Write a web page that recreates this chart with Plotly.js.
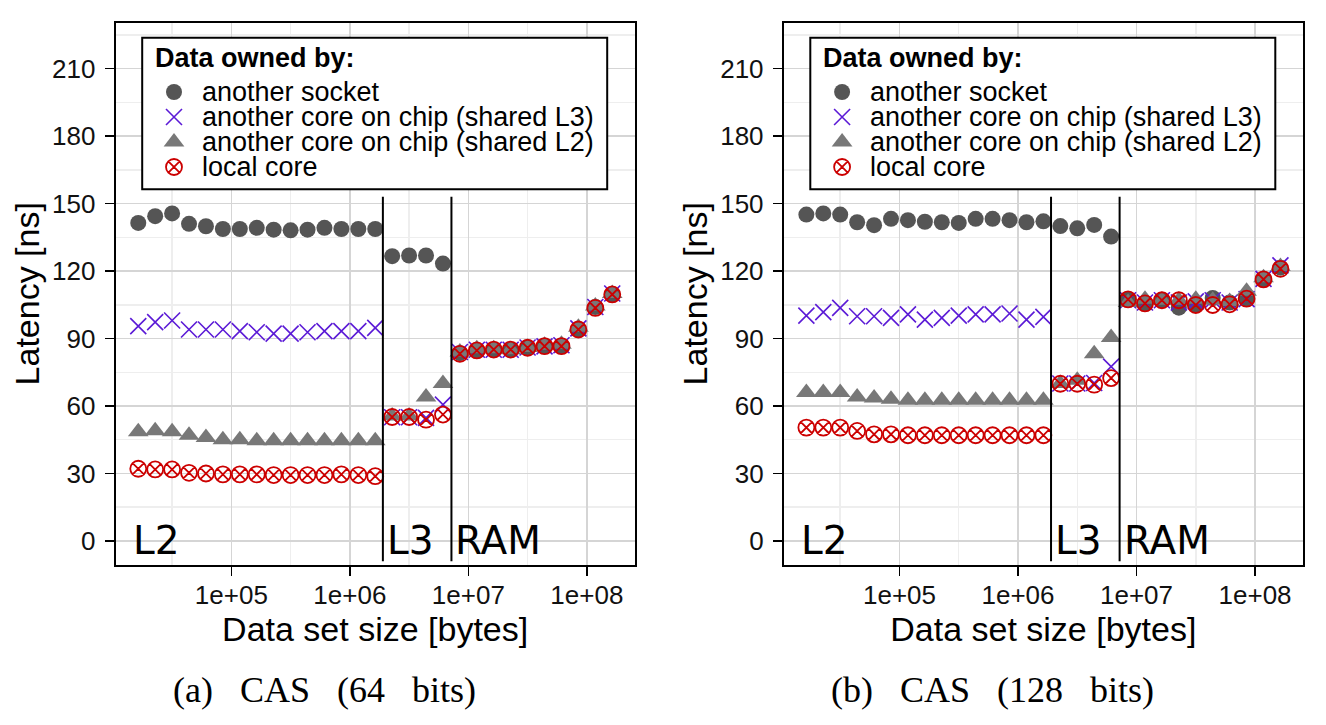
<!DOCTYPE html>
<html><head><meta charset="utf-8">
<script src="https://cdn.plot.ly/plotly-3.0.1.min.js"></script>
<style>html,body{margin:0;padding:0;background:#fff}</style>
</head><body><div id="chart" style="width:1326px;height:725px"></div>
<script>
// ---------- data ----------
const sizes = [16384, 22760, 31620, 43940, 61050, 84830, 117900, 163800, 227500, 316200,
  439400, 610500, 848300, 1179000, 1638000, 2276000, 3162000, 4394000, 6105000, 8483000,
  11790000, 16380000, 22760000, 31620000, 43940000, 61050000, 84830000, 117900000, 163800000];

const seriesNames = ['another socket', 'another core on chip (shared L3)',
  'another core on chip (shared L2)', 'local core'];

// (a) CAS 64 bits
const socket64 = [141.4, 144.4, 145.6, 141.0, 139.9, 138.7, 138.7, 139.2, 138.4, 138.1, 138.4, 139.2, 138.7, 138.7, 138.7,
  126.6, 126.9, 126.9, 123.3, 83.5, 84.5, 85.0, 85.0, 86.0, 86.5, 86.5, 94.0, 104.0, 109.5];
const sharedL3_64 = [95.5, 97.3, 98.0, 94.0, 94.0, 94.0, 93.3, 92.8, 92.2, 92.2, 92.8, 93.3, 93.3, 93.3, 94.7,
  55.0, 55.0, 54.7, 60.6, 84.0, 85.0, 85.0, 85.0, 86.0, 86.5, 87.0, 94.5, 104.0, 110.0];
const sharedL2_64 = [48.5, 49.0, 48.5, 47.0, 46.0, 45.0, 45.0, 44.5, 44.5, 44.5, 44.5, 44.5, 44.5, 44.5, 44.5,
  55.5, 55.5, 64.0, 70.0, 84.0, 85.5, 85.5, 85.0, 86.0, 87.0, 87.5, 95.0, 104.5, 110.0];
const local64 = [32.1, 31.8, 31.8, 30.3, 30.0, 29.6, 29.6, 29.6, 29.3, 29.3, 29.3, 29.3, 29.6, 29.3, 28.8,
  55.1, 55.1, 53.9, 56.2, 83.2, 84.7, 85.1, 85.1, 85.9, 86.6, 86.6, 94.0, 103.6, 109.6];

// (b) CAS 128 bits
const socket128 = [145.1, 145.6, 145.1, 141.7, 140.4, 143.2, 142.6, 141.9, 141.7, 141.4, 143.2, 143.2, 142.6, 141.7, 142.1,
  140.0, 139.0, 140.5, 135.3, 107.4, 105.6, 107.0, 103.7, 105.0, 108.0, 106.0, 107.7, 116.3, 121.5];
const sharedL3_128 = [100.2, 101.7, 103.6, 99.9, 99.9, 99.2, 100.7, 98.4, 99.2, 100.2, 100.7, 100.7, 101.1, 98.4, 99.6,
  70.0, 70.0, 70.2, 77.5, 107.0, 106.0, 107.0, 106.0, 106.5, 107.0, 106.0, 107.5, 116.5, 122.5];
const sharedL2_128 = [66.0, 66.0, 66.0, 64.0, 63.5, 63.0, 62.5, 62.5, 62.5, 62.5, 62.5, 62.5, 62.5, 62.5, 62.5,
  70.0, 71.4, 83.2, 90.4, 106.0, 107.5, 107.0, 107.0, 107.5, 107.0, 106.5, 111.0, 117.0, 122.0];
const local128 = [50.4, 50.4, 50.4, 48.9, 47.4, 47.4, 47.0, 47.0, 47.0, 47.0, 47.0, 47.0, 47.0, 47.0, 47.0,
  69.9, 69.9, 69.5, 72.4, 107.4, 105.6, 107.0, 107.0, 104.9, 104.9, 105.2, 107.7, 116.3, 121.0];

const cacheBounds = [1.9e6, 7.2e6];
const boundSpan = [-9, 153];
const regionLabels = ['L2', 'L3', 'RAM'];
const regionStarts = [13700, 1.9e6, 7.2e6];
const captions = ['(a)\u00A0\u00A0 CAS\u00A0\u00A0 (64\u00A0\u00A0 bits)', '(b)\u00A0\u00A0 CAS\u00A0\u00A0 (128\u00A0\u00A0 bits)'];
const legendTitle = 'Data owned by:';
const xTickVals = [1e5, 1e6, 1e7, 1e8];
const xTickText = ['1e+05', '1e+06', '1e+07', '1e+08'];
const xMinorVals = [31623, 316228, 3162278, 31622777];
const yTickVals = [0, 30, 60, 90, 120, 150, 180, 210];
const yMinorVals = [15, 45, 75, 105, 135, 165, 195, 225];

const panelData = [
  [socket64, sharedL3_64, sharedL2_64, local64],
  [socket128, sharedL3_128, sharedL2_128, local128]
];

// ---------- layout helpers ----------
const W = 1326, H = 725;
const panels = [{x0: 115.7, x1: 634.6, cap: 324.5}, {x0: 783.8, x1: 1302.8, cap: 992}];
const yTop = 22.7, yBot = 564.8;
const SANS = 'Liberation Sans, Arial, sans-serif';

const styles = [
  {symbol: 'circle', size: 16, color: '#555555', line: {width: 0}},
  {symbol: 'x-thin-open', size: 16, color: '#5b1ad6', line: {width: 1.6}},
  {symbol: 'triangle-up', size: 18, color: '#787878', line: {width: 0}},
  {symbol: 'circle-x-open', size: 16, color: '#cc0000', line: {width: 1.8}}
];

const traces = [];
const annotations = [];
const shapes = [];
const layout = {
  width: W, height: H,
  margin: {l: 0, r: 0, t: 0, b: 0},
  paper_bgcolor: '#ffffff', plot_bgcolor: 'rgba(0,0,0,0)',
  showlegend: false,
  annotations: annotations, shapes: shapes
};

panels.forEach((p, k) => {
  const xa = k === 0 ? 'x' : 'x2', ya = k === 0 ? 'y' : 'y2';
  const xkey = k === 0 ? 'xaxis' : 'xaxis2', ykey = k === 0 ? 'yaxis' : 'yaxis2';
  layout[xkey] = {
    domain: [p.x0 / W, p.x1 / W], anchor: ya, type: 'log', range: [4.024, 8.403],
    tickmode: 'array', tickvals: xTickVals, ticktext: xTickText,
    ticks: 'outside', ticklen: 9, tickwidth: 1.5, tickcolor: '#000',
    ticklabelstandoff: -3,
    showline: true, mirror: true, linecolor: '#000', linewidth: 2,
    showgrid: true, gridcolor: '#d5d5d5', gridwidth: 1.5, zeroline: false,
    minor: {tickmode: 'array', tickvals: xMinorVals, showgrid: true, gridcolor: '#eeeeee', gridwidth: 1.5, ticks: ''},
    tickfont: {family: SANS, size: 26, color: '#111'},
    title: {text: 'Data set size [bytes]', font: {family: SANS, size: 34, color: '#000'}, standoff: 0},
    automargin: false, fixedrange: true
  };
  layout[ykey] = {
    domain: [1 - yBot / H, 1 - yTop / H], anchor: xa, range: [-10.6, 230.4],
    tickmode: 'array', tickvals: yTickVals,
    ticks: 'outside', ticklen: 9, tickwidth: 1.5, tickcolor: '#000',
    ticklabelstandoff: 4,
    showline: true, mirror: true, linecolor: '#000', linewidth: 2,
    showgrid: true, gridcolor: '#d5d5d5', gridwidth: 1.5, zeroline: false,
    minor: {tickmode: 'array', tickvals: yMinorVals, showgrid: true, gridcolor: '#eeeeee', gridwidth: 1.5, ticks: ''},
    tickfont: {family: SANS, size: 26, color: '#111'},
    title: {text: 'Latency [ns]', font: {family: SANS, size: 34, color: '#000'}, standoff: 2},
    automargin: false, fixedrange: true
  };

  panelData[k].forEach((vals, s) => {
    traces.push({
      type: 'scatter', mode: 'markers', x: sizes, y: vals, name: seriesNames[s],
      xaxis: xa, yaxis: ya, marker: styles[s], showlegend: false, cliponaxis: false
    });
  });
  cacheBounds.forEach(b => {
    traces.push({
      type: 'scatter', mode: 'lines', x: [b, b], y: boundSpan, xaxis: xa, yaxis: ya,
      line: {color: '#000', width: 2}, showlegend: false, hoverinfo: 'skip'
    });
  });
  regionLabels.forEach((lab, i) => {
    annotations.push({
      xref: xa, yref: ya, x: Math.log10(regionStarts[i]), y: 0, xanchor: 'left', yanchor: 'middle',
      text: lab, showarrow: false, xshift: 2, yshift: 0,
      font: {family: 'DejaVu Sans, sans-serif', size: 39, color: '#000'}
    });
  });
  // caption
  annotations.push({
    xref: 'paper', yref: 'paper', x: p.cap / W, y: 1 - 690 / H, xanchor: 'center', yanchor: 'middle',
    text: captions[k], showarrow: false,
    font: {family: 'Liberation Serif, Times New Roman, serif', size: 36, color: '#000'}
  });
  // legend box, drawn in pixel-space overlay axes
  shapes.push({
    type: 'rect', xref: 'x3', yref: 'y3', layer: 'below',
    x0: p.x0 + 26.5, x1: p.x0 + 491.5, y0: 37.7, y1: 189.3,
    fillcolor: '#ffffff', line: {color: '#000', width: 2}
  });
  annotations.push({
    xref: 'x3', yref: 'y3', x: p.x0 + 37, y: 58, xanchor: 'left', yanchor: 'middle',
    text: '<b>' + legendTitle + '</b>', showarrow: false,
    font: {family: SANS, size: 27, color: '#000'}
  });
});

// legend keys and labels
const legendRows = [92, 117, 142, 167];
seriesNames.forEach((nm, s) => {
  traces.push({
    type: 'scatter', mode: 'markers', xaxis: 'x3', yaxis: 'y3',
    x: panels.map(p => p.x0 + 58.3), y: panels.map(() => legendRows[s]),
    marker: styles[s], showlegend: false, hoverinfo: 'skip', cliponaxis: false
  });
  panels.forEach(p => {
    annotations.push({
      xref: 'x3', yref: 'y3', x: p.x0 + 84, y: legendRows[s], xanchor: 'left', yanchor: 'middle',
      text: nm, showarrow: false, font: {family: SANS, size: 27, color: '#000'}
    });
  });
});
layout.xaxis3 = {domain: [0, 1], range: [0, W], visible: false, anchor: 'y3', fixedrange: true};
layout.yaxis3 = {domain: [0, 1], range: [H, 0], visible: false, anchor: 'x3', fixedrange: true};

Plotly.newPlot('chart', traces, layout, {staticPlot: true, displayModeBar: false});
</script>
</body></html>
